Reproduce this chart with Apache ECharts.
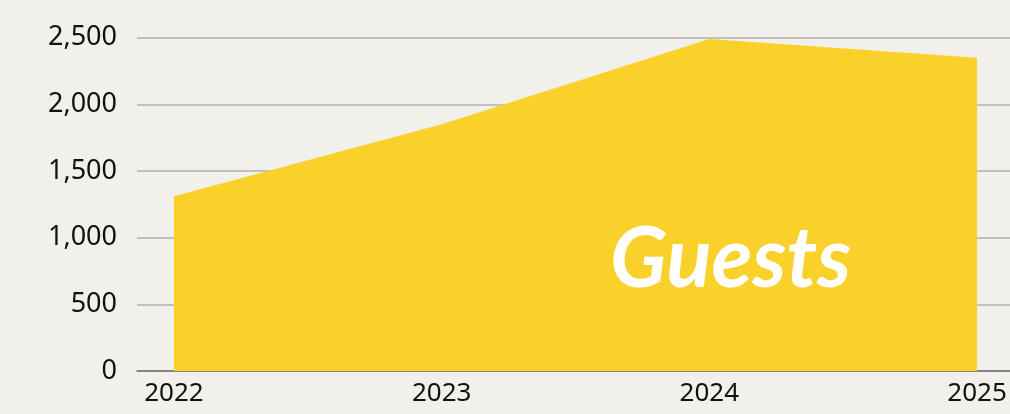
<!DOCTYPE html>
<html>
<head>
<meta charset="utf-8">
<script src="https://cdn.jsdelivr.net/npm/echarts@6/dist/echarts.min.js"></script>
<style>
  html, body { margin: 0; padding: 0; background: #f2f0ea; }
  #main { width: 1010px; height: 414px; }
</style>
</head>
<body>
<div id="main"></div>
<script>
// data
var years = [2022, 2023, 2024, 2025];
var guests = [1310, 1850, 2490, 2350];
var yTicks = [0, 500, 1000, 1500, 2000, 2500];

var points = years.map(function (y, i) { return [y, guests[i]]; });

var myChart = echarts.init(document.getElementById('main'));
var option = {
    backgroundColor: '#f2f0ea',
    animation: false,
    grid: { left: 137, right: 0, top: 37.7, bottom: 43 },
    xAxis: {
        type: 'value',
        min: 2021.862,
        max: 2025.123,
        axisLine: { show: true, lineStyle: { color: '#6f6f6f', width: 1.5 } },
        axisTick: { show: false },
        splitLine: { show: false },
        axisLabel: {
            customValues: years,
            margin: 10,
            color: '#111111',
            fontFamily: 'Noto Sans',
            fontSize: 26,
            formatter: function (v) { return String(v); }
        }
    },
    yAxis: {
        type: 'value',
        min: yTicks[0],
        max: yTicks[yTicks.length - 1],
        interval: 500,
        axisLine: { show: false },
        axisTick: { show: false },
        splitLine: { lineStyle: { color: '#c2c0bc', width: 2 } },
        axisLabel: {
            margin: 20,
            color: '#111111',
            fontFamily: 'Noto Sans',
            fontSize: 27
        }
    },
    series: [
        {
            type: 'line',
            data: points,
            symbol: 'none',
            lineStyle: { width: 0 },
            itemStyle: { color: '#fad12a' },
            areaStyle: { color: '#fad12a', opacity: 1 },
            z: 1
        }
    ],
    graphic: [
        {
            type: 'text',
            left: 610,
            top: 218,
            z: 10,
            style: {
                text: 'Guests',
                fill: '#ffffff',
                font: 'italic bold 84px Lato'
            }
        }
    ]
};
myChart.setOption(option);
</script>
</body>
</html>
